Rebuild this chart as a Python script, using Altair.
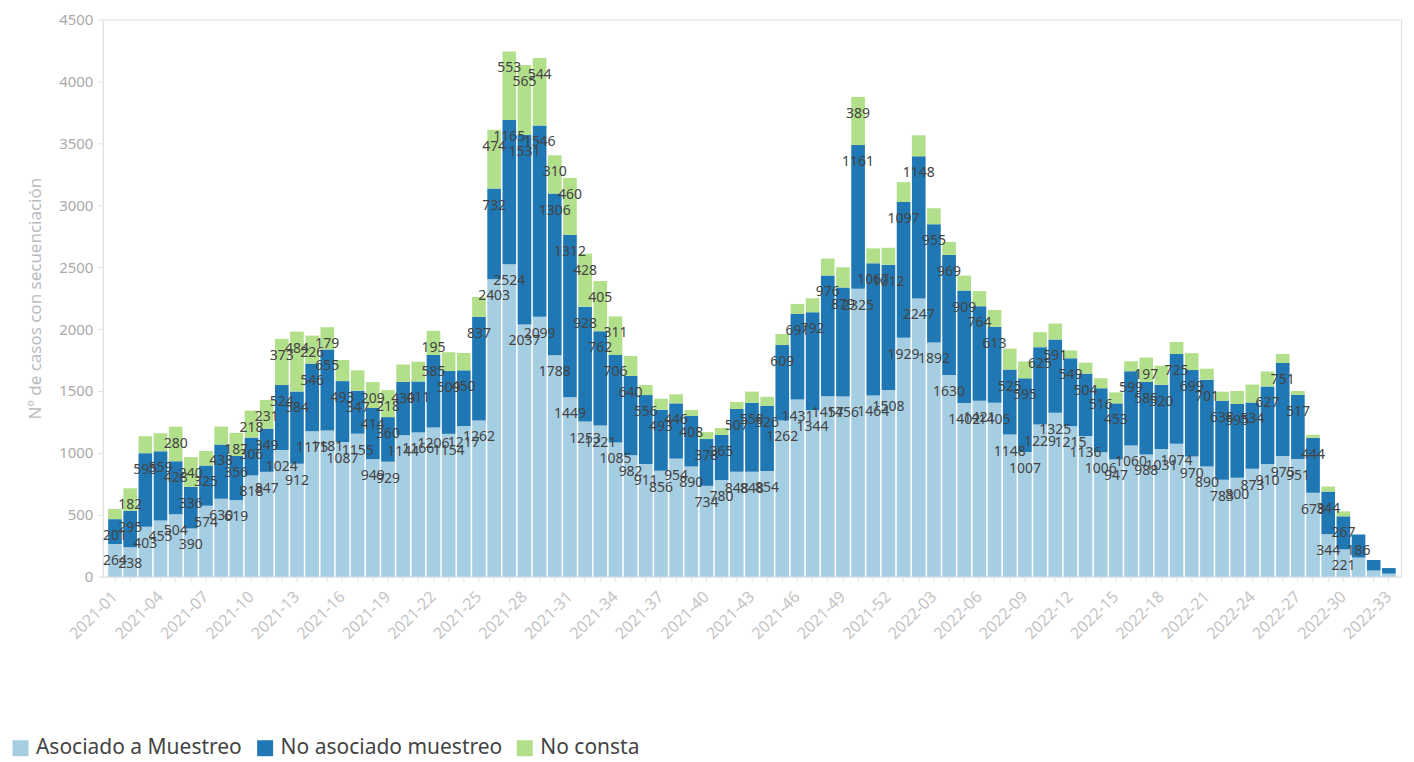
import json
import altair as alt
import pandas as pd

weeks = [f"2021-{i:02d}" for i in range(1, 53)] + [f"2022-{i:02d}" for i in range(1, 34)]

asociado = [264, 238, 403, 455, 504, 390, 574, 630, 619, 818,
            847, 1024, 912, 1175, 1181, 1087, 1155, 949, 929, 1144,
            1166, 1206, 1154, 1217, 1262, 2403, 2524, 2037, 2099, 1788,
            1449, 1253, 1221, 1085, 982, 911, 856, 954, 890, 734,
            780, 848, 848, 854, 1262, 1431, 1344, 1457, 1456, 2325,
            1464, 1508,
            1929, 2247, 1892, 1630, 1402, 1421, 1405, 1148, 1007, 1229,
            1325, 1215, 1136, 1006, 947, 1060, 988, 1031, 1074, 970,
            890, 783, 800, 873, 910, 975, 951, 678, 344, 221,
            155, 50, 25]

no_asociado = [201, 295, 595, 559, 428, 336, 325, 438, 356, 306,
               349, 524, 584, 546, 655, 493, 347, 414, 360, 430,
               411, 585, 509, 450, 837, 732, 1165, 1531, 1546, 1306,
               1312, 928, 762, 706, 640, 556, 493, 446, 408, 378,
               365, 507, 558, 526, 609, 691, 792, 976, 879, 1161,
               1067, 1012,
               1097, 1148, 955, 969, 909, 764, 613, 525, 595, 625,
               591, 549, 504, 516, 453, 599, 585, 520, 725, 699,
               701, 638, 595, 534, 627, 751, 517, 444, 344, 267,
               186, 85, 45]

no_consta = [83, 182, 137, 145, 280, 240, 116, 145, 187, 218,
             231, 373, 484, 226, 179, 170, 165, 209, 218, 140,
             160, 195, 150, 140, 160, 474, 553, 565, 544, 310,
             460, 428, 405, 311, 160, 81, 89, 73, 48, 56,
             56, 56, 89, 73, 90, 81, 113, 137, 164, 389,
             121, 137,
             161, 170, 129, 105, 121, 121, 137, 169, 137, 121,
             129, 64, 89, 81, 89, 81, 197, 153, 97, 137,
             89, 73, 105, 145, 121, 73, 32, 24, 40, 40,
             0, 0, 0]

series = ["Asociado a Muestreo", "No asociado muestreo", "No consta"]
colors = ["#a6cee3", "#1f78b4", "#b2df8a"]
tick_labels = weeks[::3]

rows = []
for i, w in enumerate(weeks):
    for k, vals in enumerate([asociado, no_asociado, no_consta]):
        rows.append({"semana": w, "serie": series[k], "orden": k, "valor": vals[i]})
df = pd.DataFrame(rows)

base = alt.Chart(df).transform_stack(
    stack="valor", groupby=["semana"], as_=["y0", "y1"],
    sort=[alt.SortField("orden", order="ascending")]
)

label_expr = "indexof(" + json.dumps(tick_labels) + ", datum.value) >= 0 ? datum.value : ''"

x_enc = alt.X(
    "semana:N", sort=weeks,
    scale=alt.Scale(paddingInner=0.1, paddingOuter=0.35),
    axis=alt.Axis(title=None, labelAngle=315, labelAlign="right", labelBaseline="middle",
                  labelExpr=label_expr, labelColor="#c4c4c4", labelFontSize=16,
                  tickColor="#e6e6e6", domainColor="#e6e6e6", tickSize=5,
                  labelPadding=12, labelOverlap=False, labelBound=False),
)

y_axis = alt.Axis(title="Nº de casos con secuenciación", values=list(range(0, 4501, 500)),
                  format="d", grid=False, labelColor="#aaaaaa", labelFontSize=15,
                  titleColor="#bbbbbb", titleFontSize=17, titleFontWeight="normal",
                  tickColor="#e0e0e0", domainColor="#e0e0e0", tickSize=5,
                  labelPadding=5, titlePadding=14)

bars = base.mark_bar().encode(
    x=x_enc,
    y=alt.Y("y0:Q", scale=alt.Scale(domain=[0, 4500], nice=False), axis=y_axis),
    y2="y1:Q",
    color=alt.Color("serie:N", scale=alt.Scale(domain=series, range=colors),
                    legend=alt.Legend(orient="none", legendX=-93, legendY=719,
                                      direction="horizontal", title=None,
                                      symbolType="square", symbolSize=256,
                                      symbolStrokeWidth=0, labelFontSize=21,
                                      labelColor="#444444", columnPadding=12,
                                      labelOffset=5, labelLimit=400)),
)

texts = base.transform_filter("datum.valor >= 175").mark_text(
    dy=17, fontSize=14, color="#444444", baseline="middle"
).encode(
    x=x_enc,
    y=alt.Y("y1:Q"),
    text=alt.Text("valor:Q"),
)

chart = alt.layer(bars, texts).properties(
    width=1300, height=558,
    padding={"left": 2, "top": 4, "right": 5, "bottom": 0},
).configure_view(stroke=None).configure(font="Noto Sans")

chart.save("out.html", embed_options={"renderer": "svg", "actions": False})
